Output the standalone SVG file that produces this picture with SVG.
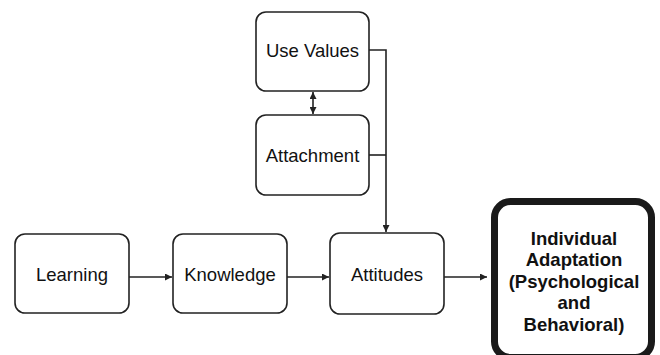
<svg xmlns="http://www.w3.org/2000/svg" width="660" height="355" viewBox="0 0 660 355">
<defs>
<style>
.box{fill:#fff;stroke:#222;stroke-width:1.6}
.big{fill:#fff;stroke:#1a1a1a;stroke-width:7}
.t{font-family:"Liberation Sans",Arial,sans-serif;font-size:18.5px;fill:#111;text-anchor:middle}
.b{font-weight:bold}
.c{stroke:#222;stroke-width:1.6;fill:none}
</style>
<marker id="ah" viewBox="0 0 10 10" refX="10" refY="5" markerWidth="7" markerHeight="7" markerUnits="userSpaceOnUse" orient="auto-start-reverse">
<path d="M0,0 L10,5 L0,10 z" fill="#222"/>
</marker>
</defs>
<rect width="660" height="355" fill="#fff"/>
<g id="connectors">
<path class="c" d="M313,92 V114" marker-start="url(#ah)" marker-end="url(#ah)"/>
<path class="c" d="M369,50 H386 V232" marker-end="url(#ah)"/>
<path class="c" d="M369,155 H386"/>
<path class="c" d="M129,277 H172" marker-end="url(#ah)"/>
<path class="c" d="M287,277 H329" marker-end="url(#ah)"/>
<path class="c" d="M444,277 H487" marker-end="url(#ah)"/>
</g>
<g id="usevalues">
<rect class="box" x="256" y="12" width="113" height="79" rx="10"/>
<text class="t" x="312.5" y="57">Use Values</text>
</g>
<g id="attachment">
<rect class="box" x="256" y="115" width="113" height="80" rx="10"/>
<text class="t" x="312.5" y="162">Attachment</text>
</g>
<g id="learning">
<rect class="box" x="15" y="234" width="114" height="79" rx="10"/>
<text class="t" x="72" y="281">Learning</text>
</g>
<g id="knowledge">
<rect class="box" x="173" y="234" width="114" height="79" rx="10"/>
<text class="t" x="230" y="281">Knowledge</text>
</g>
<g id="attitudes">
<rect class="box" x="330" y="233" width="114" height="81" rx="10"/>
<text class="t" x="387" y="281">Attitudes</text>
</g>
<g id="adaptation">
<rect class="big" x="494.5" y="201.5" width="157" height="156" rx="16"/>
<text class="t b" x="574" y="244.5">Individual</text>
<text class="t b" x="574" y="266">Adaptation</text>
<text class="t b" x="574" y="287.5">(Psychological</text>
<text class="t b" x="574" y="309">and</text>
<text class="t b" x="574" y="330.5">Behavioral)</text>
</g>
</svg>
